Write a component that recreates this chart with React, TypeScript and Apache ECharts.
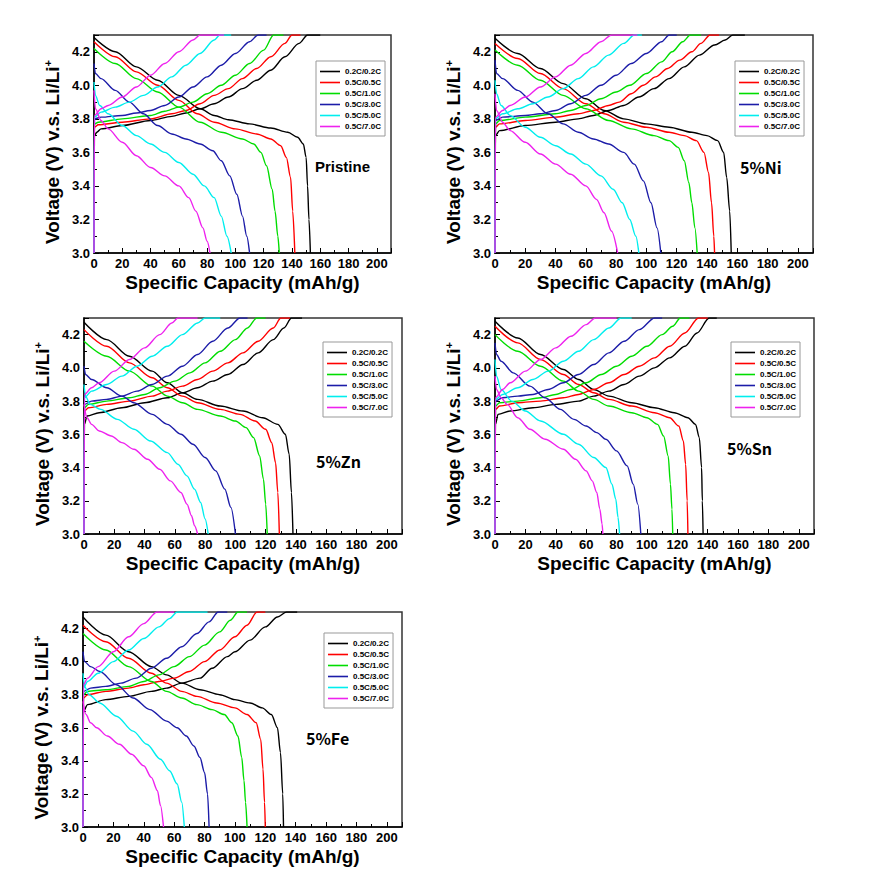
import React, { useEffect, useRef } from "react";
import * as echarts from "echarts";

const RATES = ["0.2C/0.2C", "0.5C/0.5C", "0.5C/1.0C", "0.5C/3.0C", "0.5C/5.0C", "0.5C/7.0C"];
const COLORS = ["#000000", "#ff0000", "#00dd00", "#1c1ca8", "#00eeee", "#ee22ee"];
const X_TICKS = { min: 0, max: 210, interval: 20 };
const Y_TICKS = { min: 3.0, max: 4.3, interval: 0.2 };
const SAMPLES = ["Pristine", "5%Ni", "5%Zn", "5%Sn", "5%Fe"];

// ---------- Pristine ----------
const pristineCharge = [
  [[0,3.0],[0.3,3.7],[2,3.72],[5,3.74],[20,3.76],[40,3.79],[55,3.815],[65,3.835],[75,3.86],[85,3.89],[95,3.93],[105,3.98],[115,4.03],[125,4.09],[135,4.17],[145,4.25],[151,4.3],[160,4.3]],
  [[0,3.0],[0.3,3.75],[3,3.765],[20,3.78],[40,3.8],[55,3.83],[65,3.85],[75,3.89],[85,3.94],[95,3.98],[105,4.04],[115,4.1],[125,4.17],[135,4.25],[140,4.3],[146,4.3]],
  [[0,3.0],[0.3,3.77],[3,3.78],[20,3.8],[40,3.82],[50,3.845],[60,3.87],[70,3.9],[80,3.95],[90,4.0],[100,4.06],[110,4.13],[120,4.21],[127,4.3],[134,4.3]],
  [[0,3.0],[0.3,3.8],[5,3.81],[20,3.82],[30,3.835],[40,3.85],[50,3.88],[60,3.93],[70,3.99],[80,4.05],[90,4.12],[100,4.19],[110,4.26],[116,4.3],[122,4.3]],
  [[0,3.0],[0.3,3.81],[5,3.84],[15,3.87],[25,3.9],[35,3.94],[45,3.99],[55,4.05],[65,4.12],[75,4.19],[85,4.27],[89,4.3],[97,4.3]],
  [[0,3.0],[0.3,3.82],[5,3.86],[10,3.88],[20,3.93],[30,3.99],[40,4.06],[50,4.13],[60,4.2],[70,4.27],[75,4.3],[92,4.3]],
];
const pristineDischarge = [
  [[0,4.285],[15,4.2],[30,4.11],[45,4.03],[60,3.94],[75,3.86],[85,3.82],[95,3.795],[110,3.77],[125,3.745],[137,3.72],[144,3.69],[148,3.65],[150,3.57],[151,3.4],[152,3.2],[153,3.0]],
  [[0,4.26],[15,4.17],[30,4.08],[45,4.0],[60,3.91],[73,3.83],[85,3.78],[100,3.74],[115,3.71],[125,3.68],[132,3.64],[136,3.57],[139,3.45],[140.5,3.25],[142,3.0]],
  [[0,4.22],[15,4.13],[30,4.04],[45,3.96],[60,3.87],[75,3.78],[90,3.72],[105,3.68],[113,3.65],[118,3.6],[122,3.52],[126,3.38],[128,3.25],[130,3.1],[131,3.0]],
  [[0,4.13],[1,4.07],[5,4.04],[15,3.97],[25,3.9],[35,3.83],[45,3.76],[55,3.71],[65,3.68],[75,3.65],[84,3.61],[90,3.55],[96,3.46],[101,3.35],[105,3.22],[108,3.1],[110,3.0]],
  [[0,4.02],[1,3.94],[4,3.88],[10,3.83],[20,3.76],[30,3.7],[40,3.65],[50,3.6],[60,3.54],[70,3.47],[78,3.4],[85,3.33],[90,3.22],[94,3.1],[97,3.0]],
  [[0,3.97],[1,3.86],[5,3.79],[10,3.74],[20,3.66],[30,3.58],[40,3.51],[50,3.46],[60,3.4],[67,3.33],[72,3.25],[77,3.15],[80,3.07],[82,3.0]],
];

// ---------- 5% Ni ----------
const niCharge = [
  [[0,3.0],[0.3,3.7],[3,3.73],[20,3.76],[40,3.78],[55,3.8],[65,3.82],[75,3.85],[85,3.88],[95,3.93],[105,3.98],[115,4.04],[125,4.11],[135,4.18],[145,4.24],[152,4.27],[157,4.3],[165,4.3]],
  [[0,3.0],[0.3,3.75],[3,3.77],[20,3.79],[40,3.81],[55,3.83],[65,3.85],[75,3.88],[82,3.9],[90,3.95],[98,4.0],[106,4.05],[114,4.1],[122,4.15],[130,4.2],[136,4.25],[142,4.3],[148,4.3]],
  [[0,3.0],[0.3,3.77],[3,3.79],[20,3.81],[40,3.83],[50,3.85],[60,3.88],[70,3.92],[80,3.96],[89,4.0],[100,4.07],[110,4.14],[117,4.2],[124,4.26],[129,4.3],[136,4.3]],
  [[0,3.0],[0.3,3.79],[5,3.81],[20,3.82],[30,3.83],[40,3.85],[50,3.89],[60,3.94],[70,4.0],[80,4.06],[90,4.13],[100,4.19],[110,4.26],[115,4.3],[120,4.3]],
  [[0,3.0],[0.3,3.8],[5,3.83],[15,3.86],[25,3.89],[35,3.93],[45,3.98],[55,4.04],[65,4.11],[75,4.18],[85,4.25],[92,4.3],[97,4.3]],
  [[0,3.0],[0.3,3.81],[5,3.85],[10,3.88],[20,3.93],[30,3.99],[40,4.05],[50,4.12],[60,4.19],[70,4.26],[77,4.3],[94,4.3]],
];
const niDischarge = [
  [[0,4.28],[15,4.19],[30,4.1],[45,4.01],[60,3.92],[72,3.85],[85,3.8],[100,3.77],[115,3.75],[130,3.72],[140,3.7],[147,3.67],[151,3.6],[153,3.45],[155,3.25],[156,3.0]],
  [[0,4.25],[15,4.16],[30,4.07],[45,3.98],[60,3.89],[72,3.83],[85,3.78],[100,3.75],[115,3.72],[125,3.7],[133,3.67],[138,3.6],[141,3.48],[143,3.3],[144.5,3.1],[145,3.0]],
  [[0,4.21],[15,4.12],[30,4.03],[45,3.94],[60,3.86],[75,3.79],[90,3.74],[105,3.7],[115,3.67],[121,3.63],[125,3.55],[128,3.42],[130,3.3],[132,3.15],[133.5,3.0]],
  [[0,4.15],[1,4.07],[5,4.04],[15,3.97],[25,3.9],[35,3.83],[45,3.77],[55,3.72],[65,3.68],[75,3.65],[85,3.6],[92,3.53],[98,3.43],[103,3.3],[107,3.15],[109.5,3.0]],
  [[0,4.03],[1,3.95],[4,3.88],[10,3.82],[20,3.75],[30,3.69],[40,3.64],[50,3.59],[60,3.53],[70,3.46],[78,3.38],[84,3.3],[89,3.2],[93,3.1],[95,3.0]],
  [[0,3.95],[1,3.85],[5,3.78],[10,3.73],[20,3.66],[30,3.59],[40,3.53],[50,3.47],[60,3.4],[67,3.32],[72,3.24],[77,3.13],[81,3.0]],
];

// ---------- 5% Zn ----------
const znCharge = [
  [[0,3.0],[0.3,3.66],[2,3.71],[10,3.73],[25,3.76],[40,3.79],[55,3.82],[65,3.85],[75,3.88],[85,3.92],[95,3.96],[105,4.02],[115,4.09],[125,4.17],[132,4.24],[137,4.3],[144,4.3]],
  [[0,3.0],[0.3,3.74],[3,3.76],[15,3.78],[30,3.8],[45,3.83],[55,3.86],[65,3.89],[75,3.93],[85,3.98],[95,4.03],[105,4.09],[115,4.16],[125,4.24],[130,4.3],[136,4.3]],
  [[0,3.0],[0.3,3.76],[3,3.78],[15,3.8],[30,3.82],[40,3.84],[50,3.88],[60,3.92],[70,3.97],[80,4.03],[90,4.1],[100,4.17],[108,4.24],[114,4.3],[120,4.3]],
  [[0,3.0],[0.3,3.78],[5,3.8],[15,3.81],[25,3.83],[35,3.86],[45,3.9],[55,3.95],[65,4.01],[75,4.08],[85,4.16],[95,4.24],[103,4.3],[108,4.3]],
  [[0,3.0],[0.3,3.82],[5,3.86],[15,3.9],[25,3.95],[35,4.01],[45,4.07],[55,4.13],[65,4.2],[75,4.27],[80,4.3],[90,4.3]],
  [[0,3.0],[0.3,3.84],[5,3.88],[10,3.91],[20,3.98],[30,4.05],[40,4.12],[50,4.2],[58,4.27],[62,4.3],[75,4.3]],
];
const znDischarge = [
  [[0,4.275],[15,4.17],[30,4.07],[45,3.98],[55,3.91],[65,3.85],[75,3.81],[90,3.77],[105,3.74],[118,3.7],[128,3.66],[133,3.6],[135.5,3.48],[137,3.25],[138,3.0]],
  [[0,4.23],[15,4.13],[30,4.03],[45,3.94],[55,3.88],[65,3.83],[75,3.79],[90,3.75],[103,3.72],[113,3.68],[120,3.63],[124,3.55],[126.5,3.43],[128,3.25],[129,3.0]],
  [[0,4.16],[15,4.07],[30,3.98],[45,3.89],[55,3.83],[65,3.79],[75,3.75],[90,3.71],[100,3.68],[107,3.64],[112,3.58],[116,3.47],[118.5,3.33],[120,3.18],[121,3.0]],
  [[0,4.01],[1,3.96],[5,3.93],[15,3.88],[25,3.83],[33,3.79],[45,3.72],[55,3.66],[64,3.6],[72,3.54],[80,3.46],[87,3.38],[93,3.27],[97,3.16],[100,3.0]],
  [[0,3.9],[1,3.83],[4,3.78],[11,3.75],[22,3.69],[33,3.63],[44,3.56],[55,3.49],[62,3.42],[68,3.35],[73,3.27],[77,3.19],[80,3.09],[82,3.0]],
  [[0,3.78],[2,3.7],[5,3.66],[10,3.62],[18,3.59],[25,3.55],[33,3.51],[42,3.45],[50,3.39],[57,3.32],[64,3.25],[68,3.18],[71,3.11],[73,3.05],[75,3.0]],
];

// ---------- 5% Sn ----------
const snCharge = [
  [[0,3.0],[0.3,3.66],[2,3.72],[10,3.74],[25,3.76],[40,3.78],[55,3.8],[65,3.83],[75,3.86],[85,3.9],[95,3.95],[105,4.0],[115,4.06],[125,4.13],[133,4.21],[141,4.3],[146,4.3]],
  [[0,3.0],[0.3,3.75],[3,3.77],[15,3.79],[30,3.8],[45,3.82],[55,3.84],[65,3.87],[75,3.91],[85,3.96],[95,4.01],[105,4.06],[115,4.13],[125,4.21],[134,4.3],[140,4.3]],
  [[0,3.0],[0.3,3.77],[3,3.79],[15,3.8],[30,3.82],[40,3.84],[50,3.87],[60,3.91],[70,3.96],[80,4.01],[90,4.07],[100,4.13],[110,4.2],[117,4.25],[122,4.3],[128,4.3]],
  [[0,3.0],[0.3,3.8],[5,3.82],[15,3.83],[25,3.84],[35,3.87],[45,3.91],[55,3.96],[65,4.02],[75,4.09],[85,4.16],[95,4.23],[105,4.3],[110,4.3]],
  [[0,3.0],[0.3,3.81],[5,3.84],[15,3.88],[25,3.93],[35,3.98],[45,4.04],[55,4.1],[65,4.17],[75,4.24],[83,4.3],[90,4.3]],
  [[0,3.0],[0.3,3.82],[5,3.87],[10,3.91],[20,3.98],[30,4.05],[40,4.12],[50,4.19],[60,4.26],[66,4.3],[80,4.3]],
];
const snDischarge = [
  [[0,4.28],[15,4.18],[30,4.08],[45,3.99],[55,3.93],[65,3.87],[75,3.83],[90,3.79],[105,3.76],[118,3.73],[127,3.7],[132,3.66],[134.5,3.58],[136,3.4],[136.5,3.2],[137,3.0]],
  [[0,4.25],[15,4.15],[30,4.05],[45,3.96],[55,3.9],[65,3.85],[75,3.81],[90,3.77],[105,3.73],[115,3.7],[121,3.65],[124,3.56],[125.5,3.42],[126.5,3.2],[127,3.0]],
  [[0,4.2],[15,4.1],[30,4.01],[45,3.92],[55,3.86],[65,3.81],[75,3.77],[90,3.73],[100,3.7],[107,3.66],[111,3.59],[114,3.47],[115.5,3.3],[116.5,3.15],[117,3.0]],
  [[0,4.15],[1,4.08],[4,4.04],[12,3.97],[23,3.89],[33,3.82],[43,3.75],[52,3.69],[60,3.65],[67,3.61],[73,3.57],[80,3.5],[87,3.41],[91,3.3],[94,3.18],[96,3.0]],
  [[0,4.05],[1,3.95],[4,3.87],[11,3.8],[20,3.74],[30,3.68],[45,3.6],[55,3.54],[65,3.46],[73,3.4],[77,3.3],[79.5,3.21],[81,3.1],[82,3.0]],
  [[0,3.95],[1,3.87],[4,3.82],[8,3.78],[15,3.7],[23,3.63],[33,3.57],[45,3.51],[53,3.45],[60,3.38],[64,3.32],[67,3.25],[69,3.15],[70.5,3.06],[71,3.0]],
];

// ---------- 5% Fe ----------
const feCharge = [
  [[0,3.0],[0.3,3.7],[3,3.74],[15,3.77],[30,3.79],[45,3.82],[55,3.84],[65,3.87],[77,3.9],[85,3.96],[95,4.03],[100,4.06],[110,4.13],[120,4.21],[128,4.27],[134,4.3],[141,4.3]],
  [[0,3.0],[0.3,3.78],[3,3.8],[15,3.82],[30,3.84],[40,3.86],[50,3.88],[60,3.9],[70,3.94],[80,4.0],[90,4.07],[100,4.15],[108,4.22],[114.5,4.3],[120,4.3]],
  [[0,3.0],[0.3,3.8],[3,3.82],[15,3.83],[30,3.85],[40,3.88],[50,3.92],[60,3.97],[70,4.03],[80,4.1],[90,4.18],[97,4.25],[102,4.3],[108,4.3]],
  [[0,3.0],[0.3,3.82],[5,3.84],[15,3.85],[25,3.87],[35,3.9],[45,3.96],[55,4.02],[65,4.09],[75,4.17],[83,4.24],[89,4.3],[95,4.3]],
  [[0,3.0],[0.3,3.84],[3,3.88],[10,3.93],[20,4.0],[30,4.07],[40,4.14],[50,4.21],[57,4.26],[62,4.3],[82,4.3]],
  [[0,3.0],[0.3,3.86],[3,3.9],[10,3.97],[20,4.06],[30,4.15],[40,4.23],[48.7,4.3],[60,4.3]],
];
const feDischarge = [
  [[0,4.27],[15,4.16],[30,4.06],[45,3.97],[55,3.92],[65,3.87],[77,3.83],[90,3.8],[100,3.77],[110,3.75],[118,3.72],[124,3.68],[128,3.6],[130,3.45],[131.5,3.2],[132,3.0]],
  [[0,4.22],[15,4.12],[30,4.02],[45,3.93],[55,3.87],[65,3.82],[75,3.79],[88,3.75],[100,3.72],[108,3.68],[114,3.63],[117,3.53],[118.5,3.35],[119.5,3.15],[120,3.0]],
  [[0,4.17],[15,4.07],[30,3.97],[45,3.88],[55,3.82],[65,3.78],[75,3.74],[85,3.71],[93,3.68],[98,3.63],[102,3.55],[104.5,3.42],[106,3.28],[107,3.15],[108,3.0]],
  [[0,4.06],[1,4.0],[5,3.97],[11,3.94],[22,3.86],[33,3.78],[44,3.71],[55,3.64],[62,3.6],[68,3.55],[73,3.49],[77,3.42],[80,3.33],[82,3.2],[83,3.0]],
  [[0,3.93],[1,3.85],[4,3.8],[11,3.75],[22,3.67],[33,3.58],[42,3.5],[51,3.41],[57,3.34],[62,3.26],[65,3.15],[66.7,3.0]],
  [[0,3.76],[2,3.68],[5,3.63],[9,3.6],[16,3.55],[24,3.5],[32,3.44],[40,3.37],[45,3.3],[49,3.22],[51,3.13],[53,3.0]],
];

const CHARGE = [pristineCharge, niCharge, znCharge, snCharge, feCharge];
const DISCHARGE = [pristineDischarge, niDischarge, znDischarge, snDischarge, feDischarge];

// layout (pixels)
const GRIDS = [
  { left: 94, top: 35, width: 297, height: 218 },
  { left: 495, top: 35, width: 318, height: 218 },
  { left: 84, top: 318, width: 318, height: 216 },
  { left: 495, top: 318, width: 319, height: 216 },
  { left: 83, top: 612, width: 319, height: 215 },
];
const LEGEND_POS = [
  { left: 316, top: 61 },
  { left: 735, top: 61 },
  { left: 323, top: 342 },
  { left: 731, top: 342 },
  { left: 324, top: 633 },
];
const LABEL_POS = [
  { x: 315, y: 166, font: "bold 15px 'Liberation Sans', Arial, sans-serif" },
  { x: 740, y: 167, font: "bold 16px 'Noto Sans CJK KR', 'Noto Sans', sans-serif" },
  { x: 316, y: 461, font: "bold 16px 'Noto Sans CJK KR', 'Noto Sans', sans-serif" },
  { x: 727, y: 448, font: "bold 16px 'Noto Sans CJK KR', 'Noto Sans', sans-serif" },
  { x: 306, y: 738, font: "bold 16px 'Noto Sans CJK KR', 'Noto Sans', sans-serif" },
];

const FONT = "'Liberation Sans', Arial, sans-serif";

export default function App() {
  const ref = useRef<HTMLDivElement>(null);
  useEffect(() => {
    if (!ref.current) return;
    const chart = echarts.init(ref.current, undefined, { renderer: "svg" });
    const grid = GRIDS.map((g) => ({
      ...g,
      show: true,
      borderColor: "#333",
      borderWidth: 1.5,
      backgroundColor: "transparent",
      containLabel: false,
    }));
    const xAxis = GRIDS.map((_, i) => ({
      type: "value",
      gridIndex: i,
      ...X_TICKS,
      splitLine: { show: false },
      axisLine: { show: true, onZero: false, lineStyle: { color: "#000", width: 1.5 } },
      axisTick: { show: true, inside: true, length: 5, lineStyle: { color: "#000", width: 1 } },
      minorTick: { show: true, splitNumber: 2, length: 3, lineStyle: { color: "#000", width: 1 } },
      axisLabel: {
        showMaxLabel: false,
        margin: 4,
        color: "#000",
        fontFamily: FONT,
        fontWeight: "bold",
        fontSize: 13,
      },
      name: "Specific Capacity (mAh/g)",
      nameLocation: "middle",
      nameGap: 20,
      nameTextStyle: { color: "#000", fontFamily: FONT, fontWeight: "bold", fontSize: 19 },
    }));
    const yAxis = GRIDS.map((_, i) => ({
      type: "value",
      gridIndex: i,
      ...Y_TICKS,
      splitLine: { show: false },
      axisLine: { show: true, onZero: false, lineStyle: { color: "#000", width: 1.5 } },
      axisTick: { show: true, inside: true, length: 5, lineStyle: { color: "#000", width: 1 } },
      minorTick: { show: true, splitNumber: 2, length: 3, lineStyle: { color: "#000", width: 1 } },
      axisLabel: {
        showMaxLabel: false,
        margin: 4,
        color: "#000",
        fontFamily: FONT,
        fontWeight: "bold",
        fontSize: 13,
        formatter: (v: number) => v.toFixed(1),
      },
      name: "{a|Voltage (V) v.s. Li/Li}{b|+}",
      nameLocation: "middle",
      nameRotate: 90,
      nameGap: 31,
      nameTextStyle: {
        padding: [0, 16, 0, 0],
        rich: {
          a: { color: "#000", fontFamily: FONT, fontWeight: "bold", fontSize: 19 },
          b: { color: "#000", fontFamily: FONT, fontWeight: "bold", fontSize: 11, verticalAlign: "top", padding: [0, 0, 10, 0] },
        },
      },
    }));
    const series: any[] = [];
    CHARGE.forEach((_, i) => {
      RATES.forEach((rate, r) => {
        [CHARGE[i][r], DISCHARGE[i][r]].forEach((data) => {
          series.push({
            type: "line",
            name: rate,
            xAxisIndex: i,
            yAxisIndex: i,
            data,
            symbol: "none",
            showSymbol: false,
            smooth: 0.3,
            smoothMonotone: "x",
            lineStyle: { color: COLORS[r], width: 1.4 },
            itemStyle: { color: COLORS[r] },
            z: 2 + r,
          });
        });
      });
    });
    const legend = LEGEND_POS.map((p) => ({
      ...p,
      orient: "vertical",
      data: RATES,
      selectedMode: false,
      icon: "rect",
      itemWidth: 20,
      itemHeight: 1.6,
      itemGap: 2,
      padding: [6, 4, 5, 4],
      borderColor: "#999",
      borderWidth: 1,
      backgroundColor: "#fff",
      textStyle: { color: "#000", fontFamily: FONT, fontWeight: "bold", fontSize: 8, lineHeight: 9 },
    }));
    const graphic = LABEL_POS.map((p, i) => ({
      type: "text",
      x: p.x,
      y: p.y,
      z: 100,
      style: { text: SAMPLES[i], font: p.font, fill: "#000", verticalAlign: "middle" },
    }));
    chart.setOption({
      animation: false,
      backgroundColor: "#fff",
      grid,
      xAxis,
      yAxis,
      series,
      legend,
      graphic,
    });
    return () => chart.dispose();
  }, []);
  return (
    <div
      ref={ref}
      style={{ position: "fixed", left: 0, top: 0, width: 878, height: 878, background: "#fff" }}
    />
  );
}
